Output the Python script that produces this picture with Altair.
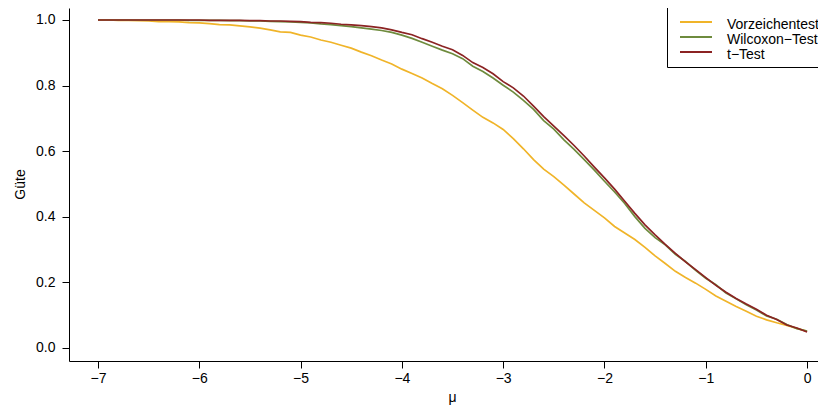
import altair as alt
import pandas as pd

mu = [round(-7 + 0.1 * i, 1) for i in range(71)]

vorzeichen = [1.000, 1.000, 0.999, 0.999, 0.998, 0.997, 0.995, 0.995, 0.994, 0.992,
              0.991, 0.989, 0.986, 0.985, 0.982, 0.979, 0.975, 0.970, 0.964, 0.962,
              0.954, 0.948, 0.939, 0.932, 0.923, 0.914, 0.902, 0.891, 0.878, 0.866,
              0.850, 0.837, 0.823, 0.806, 0.790, 0.770, 0.748, 0.725, 0.703, 0.686,
              0.666, 0.638, 0.607, 0.574, 0.545, 0.522, 0.496, 0.469, 0.442, 0.419,
              0.396, 0.370, 0.350, 0.330, 0.306, 0.280, 0.257, 0.233, 0.214, 0.197,
              0.178, 0.158, 0.142, 0.126, 0.111, 0.096, 0.085, 0.076, 0.068, 0.059,
              0.050]

wilcoxon = [1.000, 1.000, 1.000, 1.000, 1.000, 1.000, 1.000, 1.000, 1.000, 0.999,
            0.999, 0.999, 0.999, 0.998, 0.998, 0.997, 0.997, 0.996, 0.995, 0.994,
            0.993, 0.991, 0.988, 0.986, 0.983, 0.980, 0.976, 0.972, 0.968, 0.962,
            0.954, 0.944, 0.932, 0.920, 0.908, 0.897, 0.882, 0.859, 0.843, 0.823,
            0.801, 0.780, 0.755, 0.727, 0.693, 0.667, 0.634, 0.605, 0.574, 0.542,
            0.508, 0.475, 0.440, 0.400, 0.364, 0.336, 0.314, 0.285, 0.263, 0.236,
            0.212, 0.192, 0.167, 0.149, 0.131, 0.115, 0.097, 0.087, 0.071, 0.058,
            0.051]

ttest = [1.000, 1.000, 1.000, 1.000, 1.000, 1.000, 1.000, 1.000, 1.000, 1.000,
         1.000, 0.999, 0.999, 0.999, 0.999, 0.998, 0.998, 0.997, 0.997, 0.996,
         0.995, 0.993, 0.992, 0.990, 0.987, 0.985, 0.983, 0.980, 0.976, 0.970,
         0.962, 0.955, 0.943, 0.932, 0.920, 0.909, 0.892, 0.870, 0.855, 0.836,
         0.812, 0.793, 0.768, 0.737, 0.705, 0.676, 0.647, 0.617, 0.585, 0.551,
         0.518, 0.484, 0.447, 0.410, 0.375, 0.344, 0.315, 0.288, 0.262, 0.238,
         0.214, 0.190, 0.169, 0.150, 0.133, 0.117, 0.099, 0.086, 0.069, 0.060,
         0.048]

series = ["Vorzeichentest", "Wilcoxon\u2212Test", "t\u2212Test"]
colors = ["#F0B429", "#6E8B3D", "#8B2323"]
values = [vorzeichen, wilcoxon, ttest]

x_ticks = [-7, -6, -5, -4, -3, -2, -1, 0]
y_ticks = [0.0, 0.2, 0.4, 0.6, 0.8, 1.0]

FONT = "Liberation Sans"
W, H = 749, 353

xscale = alt.Scale(domain=[-7.286, 0.1079], nice=False, zero=False)
yscale = alt.Scale(domain=[-0.0406, 1.0366], nice=False, zero=False)

xaxis = alt.Axis(values=x_ticks, format="d", title="\u03bc", grid=False,
                 tickSize=7, labelPadding=3, titleX=383, titleY=40,
                 titleBaseline="alphabetic", titleAlign="center")
yaxis = alt.Axis(values=y_ticks, format=".1f", title="G\u00fcte", grid=False,
                 tickSize=7, labelPadding=7, titleX=-49, titleY=176,
                 titleAngle=270, titleBaseline="middle", titleAlign="center")

rows = []
for name, vals in zip(series, values):
    for m, p in zip(mu, vals):
        rows.append({"mu": m, "power": p, "series": name})
data = pd.DataFrame(rows)

lines = alt.Chart(data).mark_line(strokeWidth=1.7).encode(
    x=alt.X("mu:Q", scale=xscale, axis=xaxis),
    y=alt.Y("power:Q", scale=yscale, axis=yaxis),
    color=alt.Color("series:N", scale=alt.Scale(domain=series, range=colors), legend=None),
    order=alt.Order("mu:Q"),
)

layers = [lines]

one = pd.DataFrame({"a": [0]})
top_rule = alt.Chart(one).mark_rule(color="black", strokeWidth=1).encode(y=alt.value(-0.5))
layers.append(top_rule)

legend_box = alt.Chart(one).mark_rect(fill="white", stroke="black", strokeWidth=1).encode(
    x=alt.value(598.5), x2=alt.value(760), y=alt.value(-0.5), y2=alt.value(59.5)
)
layers.append(legend_box)

for i, (name, col) in enumerate(zip(series, colors)):
    seg = alt.Chart(one).mark_rule(color=col, strokeWidth=2).encode(
        x=alt.value(611), x2=alt.value(643), y=alt.value(14 + 15 * i)
    )
    lab = alt.Chart(pd.DataFrame({"label": [name]})).mark_text(
        align="left", baseline="alphabetic", fontSize=14, font=FONT, color="black"
    ).encode(x=alt.value(658), y=alt.value(21 + 15 * i), text="label:N")
    layers += [seg, lab]

chart = alt.layer(*layers).properties(
    width=W, height=H,
    autosize=alt.AutoSizeParams(type="none"),
    padding={"left": 61, "top": 0, "right": 0, "bottom": 46},
).configure_view(stroke=None).configure_axis(
    domainColor="black", tickColor="black", labelColor="black", titleColor="black",
    labelFont=FONT, titleFont=FONT, labelFontSize=14, titleFontSize=14,
    titleFontWeight="normal", domainWidth=1, tickWidth=1,
)

chart.save("out.html", embed_options={"renderer": "svg", "actions": False})
